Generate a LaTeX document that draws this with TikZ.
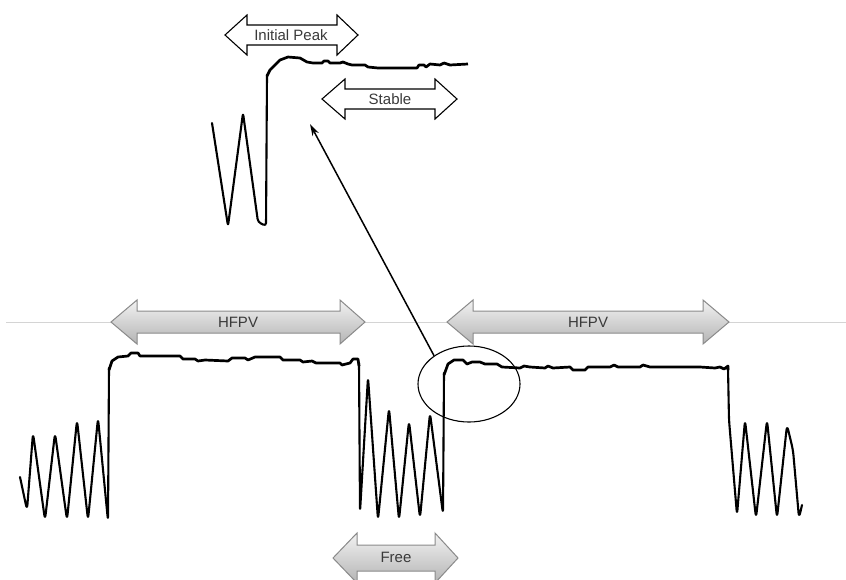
\documentclass[tikz,border=0pt]{standalone}
\usepackage{fontspec}
\setmainfont{Liberation Sans}
\usetikzlibrary{shapes.geometric,arrows.meta}
\definecolor{lbl}{HTML}{3A3A3A}
\definecolor{garrowline}{HTML}{8A8A8A}
\definecolor{gtop}{HTML}{F2F2F2}
\definecolor{gbot}{HTML}{B4B4B4}
\definecolor{hairgrey}{HTML}{D4D4D4}
\tikzset{
  signal/.style={line width=2.1pt, line join=round, line cap=round, rounded corners=5.5pt},
  plateau/.style={line width=2.7pt, line join=round},
  whitearrow/.style={fill=white, draw=black, line width=1.1pt, line join=miter},
  greyarrow/.style={top color=gtop, bottom color=gbot, draw=garrowline, line width=1pt},
  lbltext/.style={text=lbl, font=\fontsize{15}{17}\selectfont, inner sep=0pt},
  pointer/.style={line width=1.5pt, -{Stealth[length=12pt,width=7pt]}},
  zoomring/.style={draw=black, line width=1.1pt, ellipse, minimum width=102pt, minimum height=76pt, inner sep=0pt},
  hairline/.style={draw=hairgrey, line width=0.8pt}
}
\begin{document}
\begin{tikzpicture}[x=1pt,y=-1pt]
\useasboundingbox (0,0) rectangle (846,579);
% thin horizontal line
\draw[hairline] (6,322) -- (846,322);

% --- top inset trace ---
\draw[signal, rounded corners=3pt] (212,123) -- (228,226) -- (243,113) -- (258,222) -- (266,226) -- (267,75);
\draw[plateau] (267,76) -- (270,70) -- (275,65) -- (280,60) -- (288,57) -- (300,58) -- (307,62) -- (313,63)
  -- (322,63) -- (324,61) -- (328,61) -- (330,63) -- (340,63) -- (343,62) -- (348,64) -- (352,65)
  -- (365,65) -- (368,67) -- (378,68) -- (400,68) -- (417,68) -- (419,65) -- (424,65) -- (426,67) -- (430,64)
  -- (440,65) -- (444,63) -- (450,65) -- (468,64);

% --- top arrows ---
\draw[whitearrow] (225,35) -- (247,15) -- (247,25) -- (337,25) -- (337,15) -- (358,35) -- (337,55) -- (337,45) -- (247,45) -- (247,55) -- cycle;
\node[lbltext] (tinit) at (291,35) {Initial Peak};
\draw[whitearrow] (322,99) -- (345,79) -- (345,89) -- (435,89) -- (435,79) -- (457,99) -- (435,119) -- (435,109) -- (345,109) -- (345,119) -- cycle;
\node[lbltext] (tstable) at (390,99) {Stable};

% --- bottom trace ---
\draw[signal] (20,477) -- (27,510) -- (33,433) -- (45,520) -- (55,433) -- (67,520) -- (77,420) -- (88,520)
  -- (98,418) -- (108,521) -- (109,368);
\draw[plateau] (109,370) -- (112,361) -- (118,357) -- (128,356) -- (131,353) -- (138,353) -- (140,356)
  -- (180,356) -- (183,359) -- (195,359) -- (198,361) -- (205,360) -- (228,361) -- (232,358) -- (245,358)
  -- (248,360) -- (255,357) -- (280,357) -- (283,360) -- (300,360) -- (303,362) -- (312,361) -- (316,363)
  -- (340,363) -- (342,365) -- (350,363) -- (353,359) -- (358,359) -- (359,366);
\draw[signal] (359,363) -- (360,512) -- (368,377) -- (378,520) -- (389,408) -- (399,520) -- (409,421)
  -- (420,518) -- (430,413) -- (443,514) -- (444,373);
\draw[plateau] (444,375) -- (448,364) -- (454,360) -- (463,360) -- (467,364) -- (472,362) -- (480,362)
  -- (485,364) -- (497,364) -- (502,367) -- (520,368) -- (524,366) -- (530,367) -- (545,368) -- (548,366)
  -- (553,368) -- (570,367) -- (573,370) -- (585,370) -- (588,367) -- (610,367) -- (614,365) -- (618,367)
  -- (640,367) -- (643,365) -- (650,367) -- (700,367) -- (715,368) -- (720,367) -- (724,369) -- (728,366) -- (728,370);
\draw[signal] (728,368) -- (729,420) -- (737,515) -- (745,420) -- (756,518) -- (767,420) -- (777,518)
  -- (787,425) -- (793,450) -- (799,518) -- (802,505);

% --- grey block arrows ---
\draw[greyarrow] (111,322) -- (137,300) -- (137,311) -- (340,311) -- (340,300) -- (365,322) -- (340,344) -- (340,333) -- (137,333) -- (137,344) -- cycle;
\node[lbltext] (thfpv1) at (238,322) {HFPV};
\draw[greyarrow] (447,322) -- (473,300) -- (473,311) -- (703,311) -- (703,300) -- (729,322) -- (703,344) -- (703,333) -- (473,333) -- (473,344) -- cycle;
\node[lbltext] (thfpv2) at (588,322) {HFPV};
\draw[greyarrow] (333,558) -- (357,533) -- (357,545) -- (435,545) -- (435,533) -- (458,558) -- (435,583) -- (435,571) -- (357,571) -- (357,583) -- cycle;
\node[lbltext] (tfree) at (396,557) {Free};

% --- zoom ring and pointer ---
\node[zoomring] (ring) at (469,384) {};
\coordinate (tip) at (310,124);
\draw[pointer] (ring.141) -- (tip);
\end{tikzpicture}
\end{document}
